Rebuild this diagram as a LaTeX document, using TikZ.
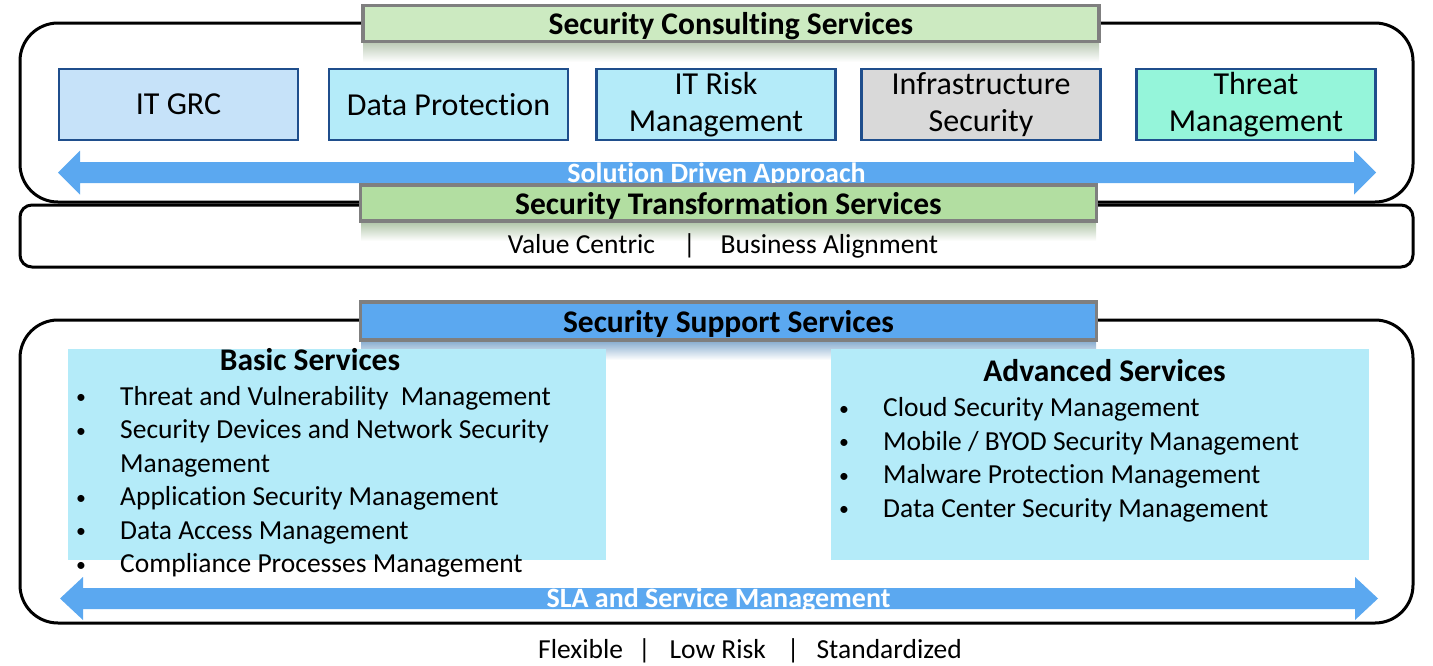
\documentclass[tikz,border=0pt]{standalone}
\usepackage{fontspec}
\setmainfont{Carlito}[Ligatures=NoCommon]
\definecolor{consultgreen}{HTML}{CCEAC1}
\definecolor{transgreen}{HTML}{B2DEA1}
\definecolor{supportblue}{HTML}{5BA8F0}
\definecolor{arrowblue}{HTML}{5BA8F0}
\definecolor{grcblue}{HTML}{C6E2F9}
\definecolor{cyanbox}{HTML}{B4EBF9}
\definecolor{infragray}{HTML}{D9D9D9}
\definecolor{threatgreen}{HTML}{95F5DA}
\definecolor{boxborder}{HTML}{1F4E8C}
\definecolor{bordergray}{HTML}{7F7F7F}
% left tip, right tip, middle y, half shaft, half head, head length
\newcommand{\blockarrow}[6]{
	\fill[arrowblue] (#1,#3) -- (#1+#6,#3-#5) -- (#1+#6,#3-#4) -- (#2-#6,#3-#4)
		-- (#2-#6,#3-#5) -- (#2,#3) -- (#2-#6,#3+#5) -- (#2-#6,#3+#4)
		-- (#1+#6,#3+#4) -- (#1+#6,#3+#5) -- cycle;
}
% left, right, top y, colour
\newcommand{\mirror}[4]{
	\shade[top color=#4!60!gray!80, bottom color=white] (#1,#3) rectangle (#2,#3+19);
}
\newcommand{\dotitem}{\raisebox{1.5pt}{\scalebox{0.72}{\textbullet}}}

\begin{document}
\begin{tikzpicture}[x=1pt,y=-1pt,
	frame/.style={draw=black, line width=3pt},
	titlebar/.style={draw=bordergray, line width=3.5pt, minimum width=736pt,
		minimum height=36pt, inner sep=0pt, text height=24pt, text depth=2pt,
		font=\bfseries\fontsize{31.5}{36}\selectfont},
	svcbox/.style={draw=boxborder, line width=2.5pt, minimum width=239pt,
		minimum height=71pt, inner sep=0pt, align=center,
		font=\fontsize{32}{37}\selectfont},
	listbox/.style={fill=cyanbox, inner sep=0pt},
	headtext/.style={font=\bfseries\fontsize{31.5}{36}\selectfont, inner sep=0pt},
	arrowtext/.style={text=white, font=\bfseries\fontsize{28}{33}\selectfont, inner sep=0pt},
	plaintext/.style={font=\fontsize{27.5}{33.5}\selectfont, inner sep=0pt}]
	\useasboundingbox (0,0) rectangle (1433,665);

	% frames
	\draw[frame, rounded corners=38pt] (20,23) rectangle (1413,202);
	\draw[frame, rounded corners=12pt] (20,205) rectangle (1413,267);
	\draw[frame, rounded corners=38pt] (20,320) rectangle (1413,623);

	% solution driven approach
	\blockarrow{58}{1376}{172.5}{10.5}{22}{22}
	\node[arrowtext, anchor=base] (solution) at (716.5,182) {Solution Driven Approach};

	\mirror{363}{1099}{43}{consultgreen}
	\mirror{361}{1096}{222}{transgreen}
	\mirror{361}{1096}{341}{supportblue}

	\node[titlebar, fill=consultgreen] (consult) at (731,23.5) {Security Consulting Services};
	\node[titlebar, fill=transgreen] (transform) at (728.5,203) {Security Transformation Services};

	\node[svcbox, fill=grcblue] (grc) at (178.5,104.5) {IT GRC};
	\node[svcbox, fill=cyanbox] (dataprot) at (448.5,104.5) {Data Protection};
	\node[svcbox, fill=cyanbox] (itrisk) at (716,104.5) {IT Risk\\Management};
	\node[svcbox, fill=infragray] (infra) at (981,104.5) {Infrastructure\\Security};
	\node[svcbox, fill=threatgreen] (threat) at (1256,104.5) {Threat\\Management};

	\node[plaintext, anchor=base] (valuetext) at (723,253)
		{Value Centric\hspace{28pt}|\hspace{25pt}Business Alignment};

	% support services
	\blockarrow{60}{1378}{598.5}{10.5}{21.5}{23}
	\node[arrowtext, anchor=base] (sla) at (718.5,607) {SLA and Service Management};

	\node[titlebar, fill=supportblue, minimum height=38pt] (support) at (728.5,321) {Security Support Services};

	\fill[listbox] (68,349) rectangle (606,560);
	\fill[listbox] (831,349) rectangle (1369,560);

	\node[headtext, anchor=base] (basic) at (310,370) {Basic Services};
	\node[plaintext, anchor=base west] (basiclist) at (76,405) {%
		\begin{tabular}[t]{@{}p{44pt}@{}l@{}}
		\dotitem & Threat and Vulnerability\ \ Management\\
		\dotitem & Security Devices and Network Security\\
		 & Management\\
		\dotitem & Application Security Management\\
		\dotitem & Data Access Management\\
		\dotitem & Compliance Processes Management
		\end{tabular}};

	\node[headtext, anchor=base] (advanced) at (1104.5,381) {Advanced Services};
	\node[plaintext, anchor=base west] (advancedlist) at (839,416.5) {%
		\begin{tabular}[t]{@{}p{44pt}@{}l@{}}
		\dotitem & Cloud Security Management\\
		\dotitem & Mobile / BYOD Security Management\\
		\dotitem & Malware Protection Management\\
		\dotitem & Data Center Security Management
		\end{tabular}};

	\node[plaintext, anchor=base] (qualities) at (750,658)
		{Flexible\hspace{15pt}|\hspace{19pt}Low Risk\hspace{21pt}|\hspace{17pt}Standardized};
\end{tikzpicture}
\end{document}
